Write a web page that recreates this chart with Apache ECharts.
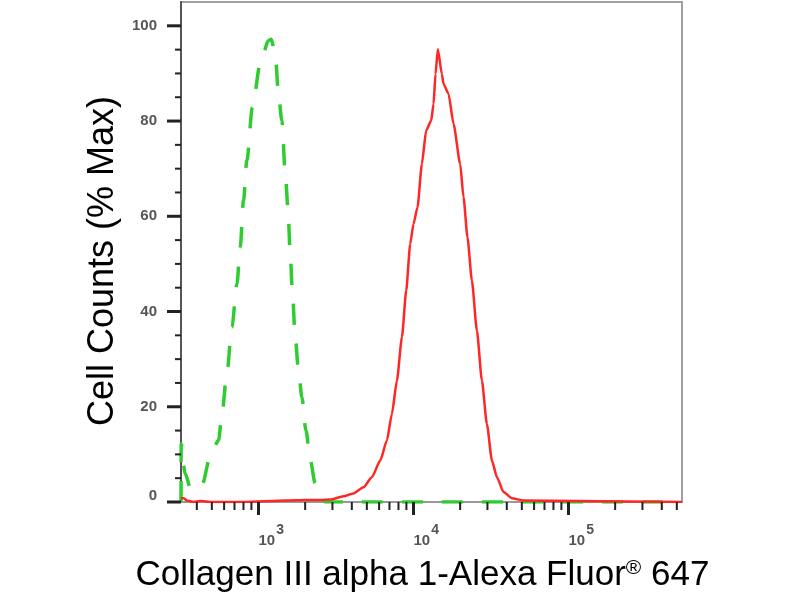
<!DOCTYPE html>
<html>
<head>
<meta charset="utf-8">
<script src="https://cdn.jsdelivr.net/npm/echarts@6/dist/echarts.min.js"></script>
<style>html,body{margin:0;padding:0;background:#fff}#c{width:800px;height:600px}</style>
</head>
<body>
<div id="c"></div>
<script>
// ---- data ----
const isotypeX = [316.3, 317, 336, 363, 381, 431, 488, 552, 581, 625, 673, 726, 762, 800, 841, 914, 1026, 1161, 1208, 1282, 1346, 1415, 1486, 1548, 1602, 1657, 1725, 1813, 1906, 2023, 2158, 2323, 2437, 2700, 540000];
const isotypeY = [0, 12.2, 6.0, 3.1, 2.5, 3.5, 9.4, 12.9, 18.5, 26.9, 36.7, 45.8, 53.5, 63.3, 71.7, 82.9, 92.0, 96.9, 97.2, 94.1, 85.7, 80.1, 69.6, 61.9, 52.1, 43.7, 34.6, 27.6, 22.0, 15.0, 8.7, 3.9, 1.8, 0, 0];
const sampleX = [316.3, 330, 345, 380, 420, 500, 800, 1500, 2000, 2500, 2903, 3532, 4100, 4757, 5390, 6100, 6735, 7255, 7818, 8420, 8976, 9525, 10000, 10615, 11330, 12070, 13010, 13470, 13870, 14360, 15240, 15620, 16830, 18130, 20010, 21030, 22300, 23810, 25660, 27630, 29750, 32070, 34550, 38110, 43150, 51290, 540000];
const sampleY = [0.8, 0.8, 0.3, 0, 0.2, 0, 0, 0.3, 0.4, 0.4, 0.5, 1.2, 1.8, 3.1, 5.2, 8.7, 12.9, 18.5, 25.5, 34.6, 44.4, 54.2, 58.4, 61.9, 71.0, 78.0, 80.1, 83.6, 89.9, 95.1, 89.9, 87.8, 85.7, 79.4, 71.0, 64.0, 55.6, 46.5, 36.0, 25.5, 16.4, 8.7, 5.2, 2.1, 0.8, 0.3, 0];
const xMin = 316.23, xMax = 540000;
const yMin = 0, yMax = 105;
const xMajorTicks = [1000, 10000, 100000];
const xMinorTicks = [400, 500, 600, 700, 800, 900, 2000, 3000, 4000, 5000, 6000, 7000, 8000, 9000, 20000, 30000, 40000, 50000, 60000, 70000, 80000, 90000, 200000, 300000, 400000, 500000];
const yMajorTicks = [0, 20, 40, 60, 80, 100];
const yMinorTicks = [5, 10, 15, 25, 30, 35, 45, 50, 55, 65, 70, 75, 85, 90, 95];
const xTitle = 'Collagen III alpha 1-Alexa Fluor{sup|®} 647';
const yTitle = 'Cell Counts (% Max)';

const FONT = 'Liberation Sans, Arial, sans-serif';
const zip = (xs, ys) => xs.map((x, i) => [x, ys[i]]);

const xTickData = xMajorTicks.map(v => [v, yMin, 1]).concat(xMinorTicks.map(v => [v, yMin, 0]));
const yTickData = yMajorTicks.map(v => [xMin, v, 1]).concat(yMinorTicks.map(v => [xMin, v, 0]));

const chart = echarts.init(document.getElementById('c'), null, {renderer: 'canvas'});
chart.setOption({
  animation: false,
  backgroundColor: '#fff',
  grid: {left: 181, right: 118, top: 2, bottom: 98, show: true, borderColor: '#a0a0a0', borderWidth: 2},
  xAxis: {
    type: 'log', logBase: 10, min: xMin, max: xMax,
    name: xTitle, nameLocation: 'middle', nameGap: 56,
    nameTextStyle: {fontSize: 35, color: '#000', fontFamily: FONT, padding: [0, 18, 0, 0],
      rich: {sup: {fontSize: 21, color: '#000', fontFamily: FONT, verticalAlign: 'top'}}},
    axisLine: {show: true, lineStyle: {color: '#999', width: 2}},
    axisTick: {show: false},
    splitLine: {show: false},
    minorTick: {show: false},
    axisLabel: {
      showMinLabel: false, showMaxLabel: false, align: 'left', margin: 21,
      formatter: function (v) {
        const l = Math.log10(v), e = Math.round(l);
        if (Math.abs(l - e) > 1e-6 || e < 3 || e > 5) return '';
        return '{b|10}{s|' + e + '}';
      },
      rich: {
        b: {fontSize: 15, fontWeight: 'bold', color: '#555', fontFamily: FONT, padding: [10, 0, 0, 0], verticalAlign: 'bottom'},
        s: {fontSize: 14, fontWeight: 'bold', color: '#555', fontFamily: FONT, padding: [0, 0, 10, 1], verticalAlign: 'top'}
      }
    }
  },
  yAxis: {
    type: 'value', min: yMin, max: yMax, interval: 20,
    name: yTitle, nameLocation: 'middle', nameGap: 56,
    nameTextStyle: {fontSize: 36, color: '#000', fontFamily: FONT, padding: [0, 18, 0, 0]},
    axisLine: {show: true, lineStyle: {color: '#555', width: 2}},
    axisTick: {show: false},
    splitLine: {show: false},
    axisLabel: {
      showMaxLabel: false, margin: 24, fontSize: 15, fontWeight: 'bold', color: '#555', fontFamily: FONT,
      formatter: function (v) { return v === 0 ? '{z|0}' : (v > 100 ? '' : String(v)); },
      rich: {z: {fontSize: 15, fontWeight: 'bold', color: '#555', fontFamily: FONT, padding: [0, 0, 12, 0]}}
    }
  },
  series: [
    {
      type: 'line', name: 'isotype', data: zip(isotypeX, isotypeY),
      showSymbol: false, smooth: 0.3, smoothMonotone: 'x', z: 3,
      lineStyle: {color: '#2fcc2f', width: 3.5, type: [21, 19]}
    },
    {
      type: 'line', name: 'sample', data: zip(sampleX, sampleY),
      showSymbol: false, smooth: 0.2, smoothMonotone: 'x', z: 4,
      lineStyle: {color: '#ff2626', width: 2.5}
    },
    {
      type: 'custom', name: 'xticks', data: xTickData, clip: false, z: 5, silent: true,
      renderItem: function (params, api) {
        const p = api.coord([api.value(0), api.value(1)]);
        const major = api.value(2) === 1;
        return {type: 'line', shape: {x1: p[0], y1: p[1], x2: p[0], y2: p[1] + (major ? 13 : 8)},
          style: {stroke: '#222', lineWidth: major ? 3 : 2}};
      }
    },
    {
      type: 'custom', name: 'yticks', data: yTickData, clip: false, z: 5, silent: true,
      renderItem: function (params, api) {
        const p = api.coord([api.value(0), api.value(1)]);
        const major = api.value(2) === 1;
        return {type: 'line', shape: {x1: p[0] - (major ? 14 : 6), y1: p[1], x2: p[0], y2: p[1]},
          style: {stroke: '#222', lineWidth: major ? 3 : 2}};
      }
    }
  ]
});
</script>
</body>
</html>
